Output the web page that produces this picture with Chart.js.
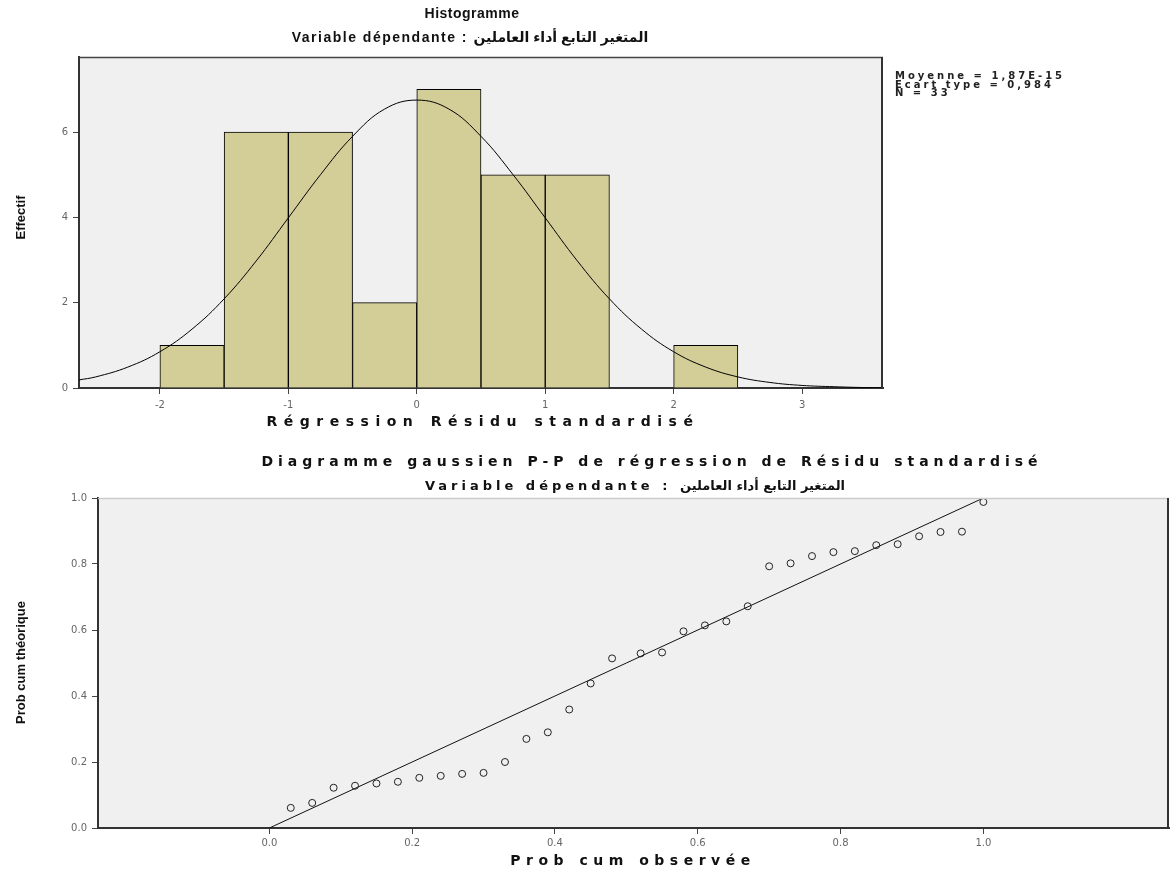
<!DOCTYPE html>
<html>
<head>
<meta charset="utf-8">
<script src="https://cdn.jsdelivr.net/npm/chart.js@4.4.1/dist/chart.umd.min.js"></script>
<style>
  body { margin: 0; background: #fff; }
  #page { position: relative; width: 1174px; height: 877px; overflow: hidden; font-family: "DejaVu Sans", "Liberation Sans", sans-serif; }
  canvas { position: absolute; left: 0; }
  .t { position: absolute; width: 1000px; text-align: center; white-space: nowrap; color: #111; font-weight: bold; }
  .h1 { font-family: "Liberation Sans", sans-serif; font-size: 14px; letter-spacing: 0.5px; }
  .h2 { font-family: "Liberation Sans", "DejaVu Sans", sans-serif; font-size: 14px; letter-spacing: 1.5px; }
  .p1 { font-size: 14px; letter-spacing: 5px; }
  .p2 { font-size: 13px; letter-spacing: 4px; }
  .axt { font-size: 14px; letter-spacing: 6.5px; }
  .axt2 { font-size: 14px; letter-spacing: 5.5px; }
  .yt { position: absolute; width: 300px; text-align: center; white-space: nowrap; transform: rotate(-90deg);
        font-family: "Liberation Sans Narrow", "Liberation Sans", sans-serif; font-size: 13px; font-weight: bold; color: #111; }
  #stats { position: absolute; left: 895px; top: 72px; font-size: 10px; font-weight: bold; letter-spacing: 3px; line-height: 8.5px; color: #222; }
</style>
</head>
<body>
<div id="page">
  <canvas id="histo" width="1174" height="445" style="top:0"></canvas>
  <canvas id="pp" width="1174" height="432" style="top:445px"></canvas>

  <div class="t h1" style="left:-28px; top:5px">Histogramme</div>
  <div class="t h2" style="left:-30px; top:29px">Variable dépendante : المتغير التابع أداء العاملين</div>
  <div class="t axt" style="left:-17px; top:413px">Régression Résidu standardisé</div>
  <div class="yt" style="left:-130px; top:210px">Effectif</div>
  <div id="stats">Moyenne = 1,87E-15<br>Ecart type = 0,984<br>N = 33</div>

  <div class="t p1" style="left:152px; top:453px">Diagramme gaussien P-P de régression de Résidu standardisé</div>
  <div class="t p2" style="left:135px; top:478px">Variable dépendante : المتغير التابع أداء العاملين</div>
  <div class="t axt2" style="left:133px; top:852px">Prob cum observée</div>
  <div class="yt" style="left:-130px; top:655px">Prob cum théorique</div>
</div>

<script>
// --- Histogramme ---
const binCenters = [-1.75, -1.25, -0.75, -0.25, 0.25, 0.75, 1.25, 1.75, 2.25];
const binCounts  = [1, 6, 6, 2, 7, 5, 5, null, 1];
const curveX = [-2.63, -2.5, -2.25, -2, -1.75, -1.5, -1.25, -1, -0.75, -0.5, -0.25, 0,
                0.25, 0.5, 0.75, 1, 1.25, 1.5, 1.75, 2, 2.25, 2.5, 2.75, 3, 3.25, 3.5, 3.63];
const curveY = [0.19, 0.26, 0.49, 0.85, 1.38, 2.09, 2.98, 3.99, 5.0, 5.9, 6.54, 6.75,
                6.54, 5.9, 5.0, 3.99, 2.98, 2.09, 1.38, 0.85, 0.49, 0.26, 0.13, 0.06, 0.03, 0.01, 0.01];
const histXTicks = [-2, -1, 0, 1, 2, 3];
const histYTicks = [0, 2, 4, 6];

// --- Diagramme P-P ---
const ppX = [0.03, 0.06, 0.09, 0.12, 0.15, 0.18, 0.21, 0.24, 0.27, 0.30, 0.33, 0.36, 0.39,
             0.42, 0.45, 0.48, 0.52, 0.55, 0.58, 0.61, 0.64, 0.67, 0.70, 0.73, 0.76, 0.79,
             0.82, 0.85, 0.88, 0.91, 0.94, 0.97, 1.00];
const ppY = [0.061, 0.076, 0.122, 0.128, 0.135, 0.140, 0.152, 0.158, 0.164, 0.167, 0.200, 0.270, 0.290,
             0.359, 0.438, 0.514, 0.529, 0.532, 0.596, 0.614, 0.626, 0.672, 0.793, 0.802, 0.824, 0.836,
             0.839, 0.857, 0.860, 0.884, 0.897, 0.898, 0.988];
const refX = [0, 1];
const refY = [0, 1];
const ppTicks = [0, 0.2, 0.4, 0.6, 0.8, 1.0];

const tickFont = { family: "DejaVu Sans", size: 10 };

// fond gris + cadre
function cadre(topColor) {
  return {
    id: "cadre",
    beforeDraw(chart) {
      const { ctx, chartArea: a } = chart;
      ctx.save();
      ctx.fillStyle = "#f0f0f0";
      ctx.fillRect(a.left, a.top, a.right - a.left, a.bottom - a.top);
      ctx.restore();
    },
    afterDraw(chart) {
      const { ctx, chartArea: a } = chart;
      ctx.save();
      ctx.lineWidth = 1.5;
      ctx.strokeStyle = topColor;
      ctx.beginPath(); ctx.moveTo(a.left, a.top + 0.5); ctx.lineTo(a.right, a.top + 0.5); ctx.stroke();
      ctx.strokeStyle = "#333";
      ctx.lineWidth = 2;
      ctx.beginPath(); ctx.moveTo(a.right - 1, a.top); ctx.lineTo(a.right - 1, a.bottom); ctx.stroke();
      ctx.restore();
    }
  };
}

function axe(min, max, ticks, size, fmt, pad) {
  return {
    type: "linear", min, max,
    offset: false,
    afterBuildTicks: s => { s.ticks = ticks.map(v => ({ value: v })); },
    afterFit: s => { if (s.isHorizontal()) s.height = size; else s.width = size; },
    grid: { offset: false, drawOnChartArea: false, drawTicks: true, tickLength: 6, color: "#444" },
    border: { display: true, color: "#333", width: 2 },
    ticks: { font: tickFont, color: "#666", padding: pad || 5, callback: fmt || (v => v) }
  };
}

new Chart(document.getElementById("histo"), {
  type: "bar",
  data: {
    datasets: [{
      data: binCenters.map((x, i) => ({ x, y: binCounts[i] })),
      backgroundColor: "#d3cd98",
      borderColor: "#000",
      borderWidth: 1,
      barPercentage: 1,
      categoryPercentage: 1,
      order: 2
    }, {
      type: "line",
      data: curveX.map((x, i) => ({ x, y: curveY[i] })),
      borderColor: "#000",
      borderWidth: 1,
      pointRadius: 0,
      tension: 0.4,
      fill: false,
      order: 1
    }]
  },
  options: {
    responsive: false,
    animation: false,
    layout: { padding: { top: 57, right: 291, left: 0, bottom: 0 } },
    plugins: { legend: { display: false }, tooltip: { enabled: false } },
    scales: {
      x: axe(-2.63, 3.63, histXTicks, 57),
      y: axe(0, 7.76, histYTicks, 79)
    }
  },
  plugins: [cadre("#444")]
});

new Chart(document.getElementById("pp"), {
  type: "scatter",
  data: {
    datasets: [{
      data: ppX.map((x, i) => ({ x, y: ppY[i] })),
      pointStyle: "circle",
      pointRadius: 3.5,
      borderWidth: 1,
      borderColor: "#222",
      backgroundColor: "rgba(0,0,0,0)"
    }, {
      type: "line",
      data: refX.map((x, i) => ({ x, y: refY[i] })),
      borderColor: "#111",
      borderWidth: 1,
      pointRadius: 0,
      fill: false
    }]
  },
  options: {
    responsive: false,
    animation: false,
    layout: { padding: { top: 53, right: 3, left: 0, bottom: 0 } },
    plugins: { legend: { display: false }, tooltip: { enabled: false } },
    scales: {
      x: axe(-0.24, 1.26, ppTicks, 49, v => v.toFixed(1), 3),
      y: axe(0, 1, ppTicks, 98, v => v.toFixed(1))
    }
  },
  plugins: [cadre("#ccc")]
});
</script>
</body>
</html>
